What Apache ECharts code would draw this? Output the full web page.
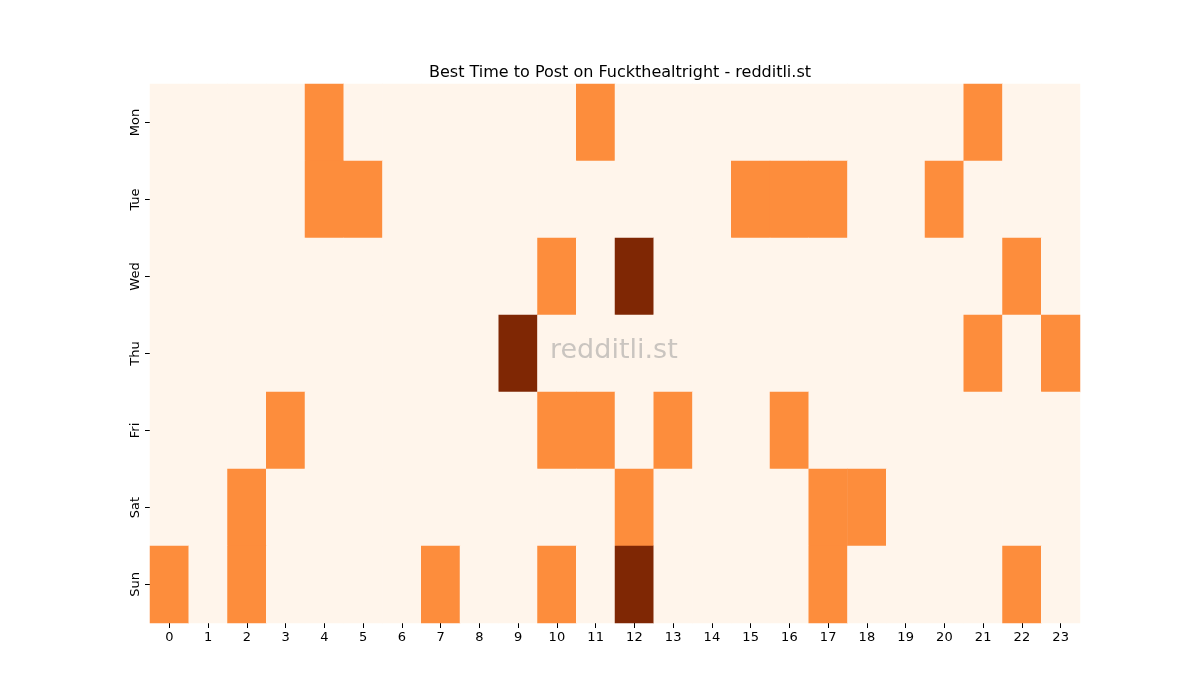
<!DOCTYPE html>
<html><head><meta charset="utf-8">
<script src="https://cdn.jsdelivr.net/npm/echarts@6/dist/echarts.min.js"></script>
<style>html,body{margin:0;background:#fff}#c{width:1200px;height:700px}</style>
</head><body><div id="c"></div>
<script>
const hours = Array.from({length:24},(_,i)=>String(i));
const days = ['Mon','Tue','Wed','Thu','Fri','Sat','Sun'];
const mon = [[4,1],[11,1],[21,1]];
const tue = [[4,1],[5,1],[15,1],[16,1],[17,1],[20,1]];
const wed = [[10,1],[12,2],[22,1]];
const thu = [[9,2],[21,1],[23,1]];
const fri = [[3,1],[10,1],[11,1],[13,1],[16,1]];
const sat = [[2,1],[12,1],[17,1],[18,1]];
const sun = [[0,1],[2,1],[7,1],[10,1],[12,2],[17,1],[22,1]];
const rows = [mon,tue,wed,thu,fri,sat,sun];
const data = [];
rows.forEach((r,d)=>{
  const m = {}; r.forEach(([h,v])=>m[h]=v);
  for(let h=0;h<24;h++) data.push([h,d,m[h]||0]);
});
const chart = echarts.init(document.getElementById('c'));
chart.setOption({
  animation:false,
  title:{text:'Best Time to Post on Fuckthealtright - redditli.st',left:615,top:60,textAlign:'center',
    textStyle:{fontFamily:'DejaVu Sans',fontSize:16,fontWeight:'normal',color:'#000'}},
  grid:{left:150,right:120,top:84,bottom:77},
  xAxis:{type:'category',data:hours,axisLine:{show:false},
    axisTick:{show:true,alignWithLabel:true,lineStyle:{color:'#000'}},
    axisLabel:{color:'#000',fontFamily:'DejaVu Sans',fontSize:13},splitLine:{show:false}},
  yAxis:{type:'category',data:days,inverse:true,axisLine:{show:false},
    axisTick:{show:true,alignWithLabel:true,lineStyle:{color:'#000'}},
    axisLabel:{color:'#000',fontFamily:'DejaVu Sans',fontSize:13,rotate:90}},
  visualMap:{show:false,type:'piecewise',dimension:2,
    pieces:[{value:0,color:'#fff5eb'},{value:1,color:'#fd8d3c'},{value:2,color:'#7f2704'}]},
  graphic:[{type:'text',left:550,top:337,z:100,style:{text:'redditli.st',fontSize:27,fontFamily:'DejaVu Sans',fill:'rgba(150,150,150,0.5)'}}],
  series:[{type:'heatmap',data:data,itemStyle:{borderWidth:0}}]
});
</script></body></html>
